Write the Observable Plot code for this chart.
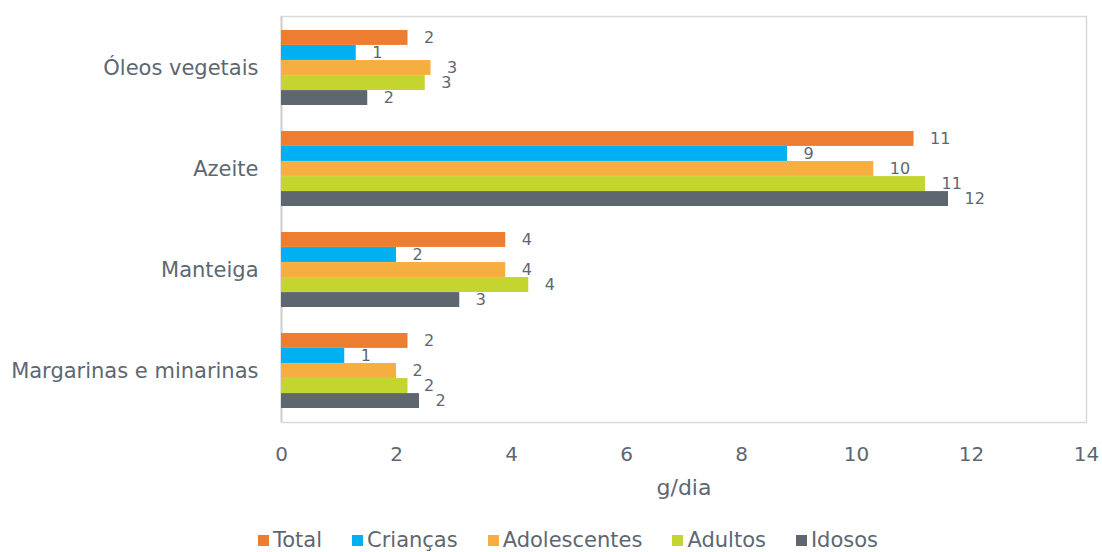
<!DOCTYPE html>
<html>
<head>
<meta charset="utf-8">
<script src="https://cdn.jsdelivr.net/npm/d3@7"></script>
<script src="https://cdn.jsdelivr.net/npm/@observablehq/plot@0.6"></script>
<style>
  html, body { margin: 0; padding: 0; background: #ffffff; }
  #chart { width: 1102px; }
  g[aria-label="y-axis tick label"], g[aria-label="y-axis"] { font-size: 21px; }
  .legend { display: flex; justify-content: center; align-items: center; gap: 30px;
            font-family: "DejaVu Sans", sans-serif; font-size: 21px; color: #5d6771;
            margin-top: 16px; line-height: 24px; padding-left: 34px; }
  .legend .item { display: flex; align-items: center; gap: 4px; }
  .legend .sw { width: 11px; height: 11px; display: inline-block; }
</style>
</head>
<body>
<div id="chart"></div>
<script>
// ---- data ----
const categories = ["Óleos vegetais", "Azeite", "Manteiga", "Margarinas e minarinas"];
const series = ["Total", "Crianças", "Adolescentes", "Adultos", "Idosos"];
const total        = [2.2, 11.0, 3.9, 2.2];
const criancas     = [1.3, 8.8, 2.0, 1.1];
const adolescentes = [2.6, 10.3, 3.9, 2.0];
const adultos      = [2.5, 11.2, 4.3, 2.2];
const idosos       = [1.5, 11.6, 3.1, 2.4];
const colors = ["#ED7D31", "#00B0F0", "#F6AE40", "#C3D52E", "#5E6770"];
const xTicks = [0, 2, 4, 6, 8, 10, 12, 14];

const seriesValues = [total, criancas, adolescentes, adultos, idosos];
const rows = [];
series.forEach((s, i) => categories.forEach((c, j) => rows.push({series: s, category: c, value: seriesValues[i][j]})));

// ---- layout ----
const W = 1102, H = 512;
const mTop = 16, mBottom = 90, mLeft = 281, mRight = 16;
const padInner = 0.26;
const step = (H - mTop - mBottom) / categories.length;
const bw = step * (1 - padInner);
const bh = bw / series.length;
const textColor = "#5d6771";

const marks = [
  Plot.frame({stroke: "#d9d9d9", strokeWidth: 1.5}),
  Plot.ruleX([0], {stroke: "#d0d0d0", strokeWidth: 2})
];
series.forEach((s, i) => {
  const data = rows.filter(d => d.series === s);
  marks.push(Plot.barX(data, {
    x: "value", y: "category", fill: colors[i],
    insetTop: i * bh, insetBottom: bw - (i + 1) * bh
  }));
  marks.push(Plot.text(data, {
    x: "value", y: "category", text: d => String(Math.round(d.value)),
    dy: -bw / 2 + (i + 0.5) * bh, dx: 16, textAnchor: "start",
    fill: textColor, fontSize: 16
  }));
});
marks.push(Plot.text(["g/dia"], {frameAnchor: "bottom", text: d => d, dy: 72, fontSize: 22, fill: textColor}));

const chart = Plot.plot({
  width: W, height: H,
  marginTop: mTop, marginBottom: mBottom, marginLeft: mLeft, marginRight: mRight,
  style: {fontFamily: "DejaVu Sans, sans-serif", fontSize: "20px", color: textColor, background: "#ffffff", overflow: "visible"},
  x: {domain: [0, 14], ticks: xTicks, tickSize: 0, tickPadding: 24, label: null},
  y: {domain: categories, paddingInner: padInner, paddingOuter: padInner / 2, tickSize: 0, tickPadding: 23, label: null},
  marks
});
document.getElementById("chart").appendChild(chart);

// ---- legend ----
const legend = d3.select("#chart").append("div").attr("class", "legend");
series.forEach((s, i) => {
  const it = legend.append("div").attr("class", "item");
  it.append("span").attr("class", "sw").style("background", colors[i]);
  it.append("span").text(s);
});
</script>
</body>
</html>
